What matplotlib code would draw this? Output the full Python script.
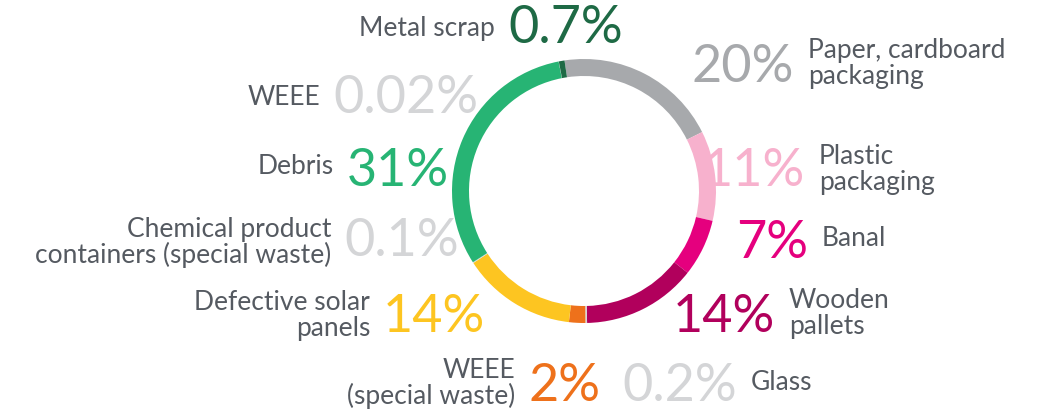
import matplotlib
matplotlib.use("Agg")
import matplotlib.pyplot as plt

# waste shares, clockwise from the top of the ring
categories = ["Paper, cardboard\npackaging", "Plastic\npackaging", "Banal",
              "Wooden\npallets", "Glass", "WEEE\n(special waste)",
              "Defective solar\npanels", "Chemical product\ncontainers (special waste)",
              "Debris", "WEEE", "Metal scrap"]
shares = [20, 11, 7, 14, 0.2, 2, 14, 0.1, 31, 0.02, 0.7]
pct_labels = ["20%", "11%", "7%", "14%", "0.2%", "2%", "14%", "0.1%", "31%", "0.02%", "0.7%"]
colors = ["#a7a9ac", "#f7b1cd", "#e5007e", "#b1005c", "#d4d5d7", "#ee711b",
          "#fdc521", "#d4d5d7", "#27b474", "#d4d5d7", "#1e6a45"]
pct_colors = ["#a7a9ac", "#f7b1cd", "#e5007e", "#b1005c", "#d4d5d7", "#ee711b",
              "#fdc521", "#d4d5d7", "#27b474", "#d4d5d7", "#1e6a45"]

# label layout in pixels (x of the number edge, number baseline, side)
layout = [(794, 82, "r"), (805, 186, "r"), (808, 258, "r"), (775, 332, "r"),
          (737, 401, "r"), (528, 401, "l"), (383, 332, "l"), (344, 256, "l"),
          (347, 186, "l"), (333, 113, "l"), (508, 43, "l")]
text_first_baseline = [58, 164, 246, 308, 390, 378, 310, 237, 174, 105, 36]

W, H = 1047, 414
TXT = "#555a61"
plt.rcParams['font.family'] = ['Lato', 'DejaVu Sans']

fig = plt.figure(figsize=(W / 100, H / 100), dpi=100)
ax = fig.add_axes([0, 0, 1, 1])
ax.pie(shares, colors=colors, startangle=98.5, counterclock=False,
       radius=132, center=(584, H - 192),
       wedgeprops=dict(width=17, linewidth=0))
ax.set_xlim(0, W)
ax.set_ylim(0, H)
ax.set_aspect('equal')
ax.axis('off')

for cat, pct, pc, (x, yb, side), tb in zip(categories, pct_labels, pct_colors,
                                           layout, text_first_baseline):
    lines = cat.split("\n")
    if side == "r":
        ax.text(x, H - yb, pct, ha="right", va="baseline", fontsize=37.5,
                color=pc)
        tx, tha = x + 14, "left"
    else:
        ax.text(x, H - yb, pct, ha="left", va="baseline", fontsize=37.5,
                color=pc)
        tx, tha = x - 13, "right"
    for i, ln in enumerate(lines):
        ax.text(tx, H - (tb + 26 * i), ln, ha=tha, va="baseline", fontsize=19,
                color=TXT)

fig.savefig("out.png", dpi=100)
